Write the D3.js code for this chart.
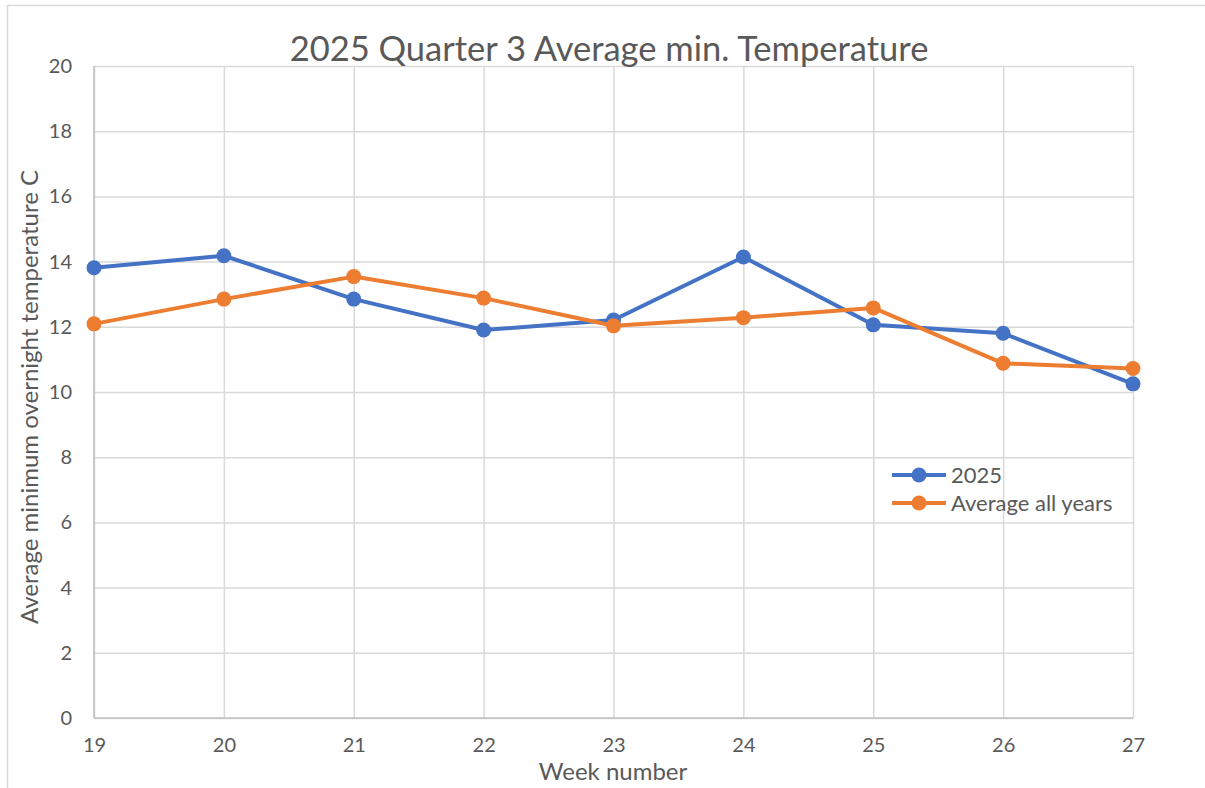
<!DOCTYPE html>
<html>
<head>
<meta charset="utf-8">
<script src="https://cdn.jsdelivr.net/npm/d3@7"></script>
<style>
    body { margin: 0; background: #fff; }
    svg text { font-family: Lato, "Open Sans", sans-serif; fill: #595959; }
    .grid line { stroke: #d9d9d9; stroke-width: 1.5; }
    .grid path { display: none; }
</style>
</head>
<body>
<div id="chart"></div>
<script>
// Data
var weeks = [19, 20, 21, 22, 23, 24, 25, 26, 27];
var temps2025 = [13.81, 14.18, 12.85, 11.90, 12.21, 14.14, 12.06, 11.80, 10.25];
var tempsAverage = [12.09, 12.85, 13.54, 12.88, 12.03, 12.28, 12.58, 10.88, 10.72];
var yTicks = [0, 2, 4, 6, 8, 10, 12, 14, 16, 18, 20];
var seriesNames = ['2025', 'Average all years'];
var seriesColors = ['#4472c4', '#ed7d31'];

var width = 1205, height = 788;
var margin = { top: 66, right: 72, bottom: 70, left: 94 };

var svg = d3.select('#chart').append('svg')
    .attr('width', width)
    .attr('height', height);

// outer chart frame
svg.append('path')
    .attr('d', 'M7.5,' + height + 'V5.5H' + width)
    .attr('fill', 'none')
    .attr('stroke', '#d9d9d9')
    .attr('stroke-width', 1.5);

var x = d3.scaleLinear()
    .domain([d3.min(weeks), d3.max(weeks)])
    .range([margin.left, width - margin.right]);

var y = d3.scaleLinear()
    .domain([0, 20])
    .range([height - margin.bottom, margin.top]);

// gridlines
svg.append('g')
    .attr('class', 'grid')
    .attr('transform', 'translate(0,' + (height - margin.bottom) + ')')
    .call(d3.axisBottom(x).tickValues(weeks)
        .tickSize(-(height - margin.bottom - margin.top))
        .tickFormat(''));

svg.append('g')
    .attr('class', 'grid')
    .attr('transform', 'translate(' + margin.left + ',0)')
    .call(d3.axisLeft(y).tickValues(yTicks)
        .tickSize(-(width - margin.right - margin.left))
        .tickFormat(''));

// axis lines
svg.append('line')
    .attr('x1', margin.left).attr('x2', margin.left)
    .attr('y1', y(20)).attr('y2', y(0))
    .attr('stroke', '#bfbfbf').attr('stroke-width', 1.5);
svg.append('line')
    .attr('x1', margin.left).attr('x2', width - margin.right)
    .attr('y1', y(0)).attr('y2', y(0))
    .attr('stroke', '#bfbfbf').attr('stroke-width', 1.5);

// tick labels
var yAxis = svg.append('g')
    .attr('transform', 'translate(' + margin.left + ',0)')
    .call(d3.axisLeft(y).tickValues(yTicks).tickSize(0).tickPadding(22));
yAxis.select('.domain').remove();
yAxis.selectAll('text').attr('font-size', 20).style('font-family', 'Lato, sans-serif').attr('fill', '#595959');

var xAxis = svg.append('g')
    .attr('transform', 'translate(0,' + (height - margin.bottom) + ')')
    .call(d3.axisBottom(x).tickValues(weeks).tickSize(0).tickPadding(20));
xAxis.select('.domain').remove();
xAxis.selectAll('text').attr('font-size', 20).style('font-family', 'Lato, sans-serif').attr('fill', '#595959');

// lines + markers
var line = d3.line()
    .x(function (d) { return x(d.week); })
    .y(function (d) { return y(d.value); });

[temps2025, tempsAverage].forEach(function (values, i) {
    var data = weeks.map(function (w, j) { return { week: w, value: values[j] }; });
    var g = svg.append('g');
    g.append('path')
        .datum(data)
        .attr('d', line)
        .attr('fill', 'none')
        .attr('stroke', seriesColors[i])
        .attr('stroke-width', 4)
        .attr('stroke-linejoin', 'round');
    g.selectAll('circle').data(data).enter()
        .append('circle')
        .attr('cx', function (d) { return x(d.week); })
        .attr('cy', function (d) { return y(d.value); })
        .attr('r', 7.5)
        .attr('fill', seriesColors[i]);
});

// title
svg.append('text')
    .attr('x', 609)
    .attr('y', 61)
    .attr('text-anchor', 'middle')
    .attr('font-size', 34.5)
    .text('2025 Quarter 3 Average min. Temperature');

// axis titles
svg.append('text')
    .attr('x', 613)
    .attr('y', 780)
    .attr('text-anchor', 'middle')
    .attr('font-size', 24)
    .text('Week number');

svg.append('text')
    .attr('transform', 'translate(38,397) rotate(-90)')
    .attr('text-anchor', 'middle')
    .attr('font-size', 24)
    .text('Average minimum overnight temperature C');

// legend
var legend = svg.append('g').attr('transform', 'translate(892,475)');
seriesNames.forEach(function (name, i) {
    var row = legend.append('g').attr('transform', 'translate(0,' + (i * 28) + ')');
    row.append('line')
        .attr('x1', 0).attr('x2', 54)
        .attr('stroke', seriesColors[i]).attr('stroke-width', 4);
    row.append('circle').attr('cx', 27).attr('r', 7.5).attr('fill', seriesColors[i]);
    row.append('text')
        .attr('x', 59)
        .attr('y', 7.5)
        .attr('font-size', 22)
        .text(name);
});
</script>
</body>
</html>
